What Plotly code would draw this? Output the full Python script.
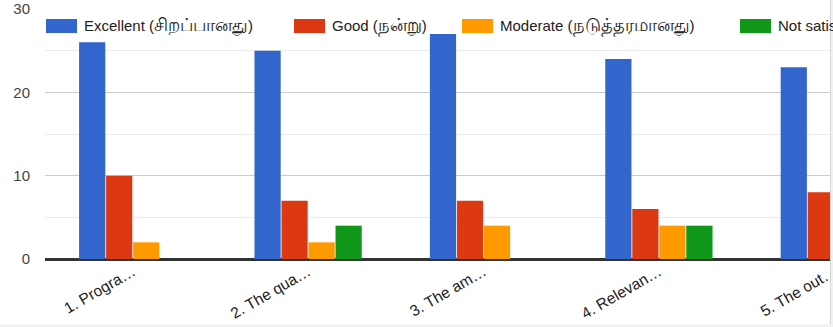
import plotly.graph_objects as go

# survey answers per question (5th group is cut off at the card edge)
questions = ['1. Progra…', '2. The qua…', '3. The am…', '4. Relevan…', '5. The out…']
excellent = [26, 25, 27, 24, 23]
good = [10, 7, 7, 6, 8]
moderate = [2, 2, 4, 4, 5]
not_satisfied = [0, 4, 0, 4, 2]

series_en = ['Excellent', 'Good', 'Moderate', 'Not satisfied']
series_ta = ['சிறப்பானது', 'நன்று', 'நடுத்தரமானது', 'திருப்தியில்லை']
series_values = [excellent, good, moderate, not_satisfied]
colors = ['#3366cc', '#dc3912', '#ff9900', '#109618']

FONT = 'Liberation Sans, Arial, Noto Sans, sans-serif'

# plot area in pixels (figure is wider than the window; right part is cropped)
W, H = 940, 327
L, T, R, B = 45, 9, 18, 68
PW = W - L - R
PH = H - T - B


def px_x(p):
    return (p - L) / PW


def px_y(p):
    return (H - B - p) / PH


fig = go.Figure()
for en, ta, vals, col in zip(series_en, series_ta, series_values, colors):
    fig.add_trace(go.Bar(x=questions, y=vals, name=f'{en} ({ta})', marker_color=col,
                         marker_line_width=0, showlegend=False))

# legend drawn like google forms (wide swatches)
legend_x = [46, 294, 462, 740]
shapes = []
annotations = []
for lx, en, ta, col in zip(legend_x, series_en, series_ta, colors):
    shapes.append(dict(type='rect', xref='paper', yref='paper',
                       x0=px_x(lx), x1=px_x(lx + 31), y0=px_y(33), y1=px_y(19),
                       fillcolor=col, line=dict(width=0)))
    label = f'{en} (<span style="font-size:18px">{ta}</span>)'
    annotations.append(dict(xref='paper', yref='paper', x=px_x(lx + 36), y=px_y(26),
                            xanchor='left', yanchor='middle', text=label, showarrow=False,
                            font=dict(family=FONT, size=15, color='#222222')))

# card border on the right and bottom
shapes.append(dict(type='rect', xref='paper', yref='paper', layer='above',
                   x0=px_x(830.5), x1=px_x(W + 5), y0=px_y(-5), y1=px_y(H + 5),
                   fillcolor='#f1f1f1', line=dict(width=0)))
shapes.append(dict(type='line', xref='paper', yref='paper', layer='above',
                   x0=px_x(830.5), x1=px_x(830.5), y0=px_y(-5), y1=px_y(324.5),
                   line=dict(color='#d6d6d6', width=1)))
shapes.append(dict(type='rect', xref='paper', yref='paper', layer='above',
                   x0=px_x(-5), x1=px_x(830.5), y0=px_y(324.5), y1=px_y(H + 5),
                   fillcolor='#f1f1f1', line=dict(width=0)))

fig.update_layout(
    width=W, height=H,
    margin=dict(l=L, r=R, t=T, b=B),
    paper_bgcolor='white', plot_bgcolor='white',
    barmode='group', bargap=0.384, bargroupgap=0.03,
    font=dict(family=FONT, size=14, color='#222222'),
    shapes=shapes, annotations=annotations,
    xaxis=dict(tickangle=-30, showgrid=False, ticks='', showline=False, automargin=False,
               tickfont=dict(size=15.5, color='#222222')),
    yaxis=dict(range=[0, 30], dtick=10, gridcolor='#cccccc', gridwidth=1, automargin=False,
               zeroline=True, zerolinecolor='#333333', zerolinewidth=3,
               tickfont=dict(size=15, color='#444444'), ticklabelstandoff=14,
               minor=dict(dtick=5, showgrid=True, gridcolor='#ebebeb', gridwidth=1)),
)

fig.write_html('out.html', config=dict(displayModeBar=False),
               post_script="document.body.style.margin='0';document.body.style.overflow='hidden';")
